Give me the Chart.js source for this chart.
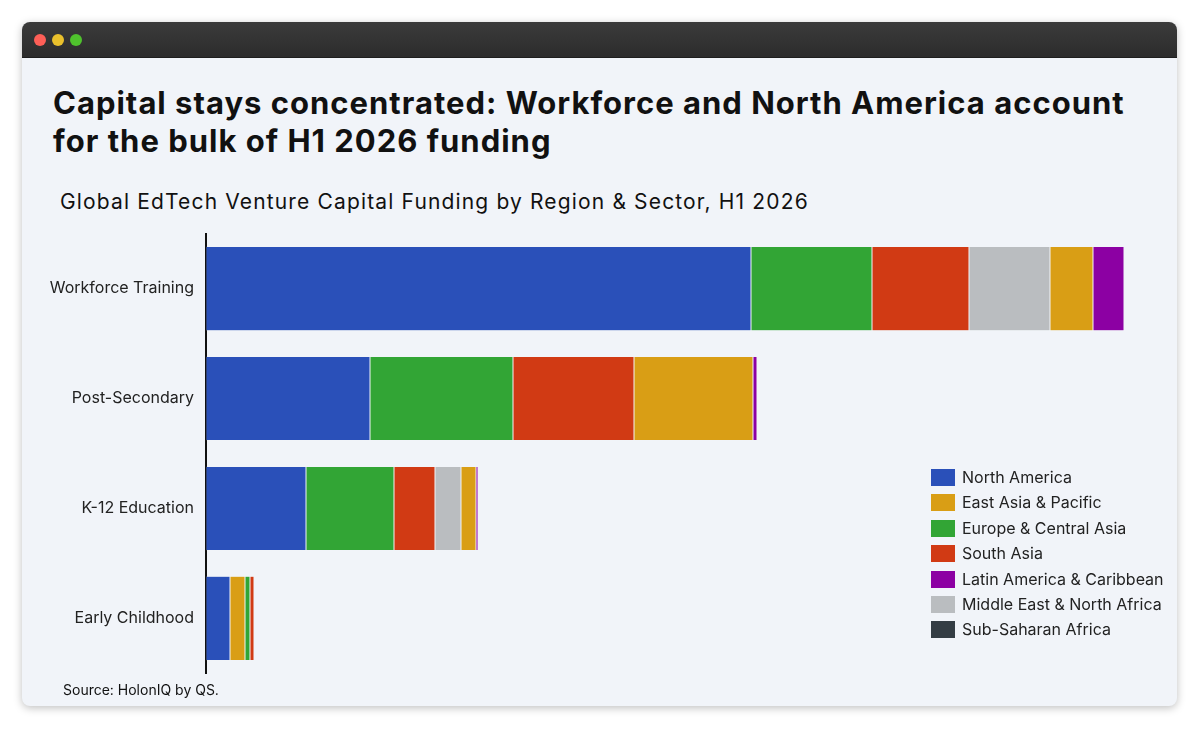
<!DOCTYPE html>
<html>
<head>
<meta charset="utf-8">
<script src="https://cdn.jsdelivr.net/npm/chart.js@4/dist/chart.umd.min.js"></script>
<style>
  body { margin: 0; background: #ffffff; width: 1200px; height: 729px; overflow: hidden; font-family: Inter, "Noto Sans", sans-serif; }
  .win { position: absolute; left: 22px; top: 22px; width: 1155px; height: 684px; border-radius: 8px; background: #f1f4f9;
         box-shadow: 0 2px 8px rgba(0,0,0,0.25); overflow: hidden; }
  .bar { position: absolute; left: 0; top: 0; width: 100%; height: 35px; background: linear-gradient(#3b3b3b, #2c2c2c); border-bottom: 1px solid #1e1e1e; }
  .dot { position: absolute; top: 12px; width: 12px; height: 12px; border-radius: 50%; }
  h1 { position: absolute; left: 31px; top: 62px; margin: 0; font-size: 31px; font-weight: 700; line-height: 38px; color: #111; letter-spacing: 1px; white-space: nowrap; }
  .sub { position: absolute; left: 38px; top: 166px; font-size: 21px; line-height: 28px; color: #111; letter-spacing: 1.15px; white-space: nowrap; }
  #wrap { position: absolute; left: 0; top: 190px; width: 1144px; height: 483px; }
  .legend { position: absolute; left: 909px; top: 447px; }
  .legend div { height: 25.4px; display: flex; align-items: flex-start; font-size: 16px; color: #222; }
  .legend span.box { width: 24px; height: 17px; margin-right: 7px; flex: none; }
  .legend span.txt { line-height: 17px; }
  .src { position: absolute; left: 41px; top: 659px; font-size: 14px; color: #111; }
</style>
</head>
<body>
<div class="win">
  <div class="bar">
    <div class="dot" style="left:12px;background:#fe5f57"></div>
    <div class="dot" style="left:30px;background:#e9c02c"></div>
    <div class="dot" style="left:48px;background:#4fc22d"></div>
  </div>
  <h1>Capital stays concentrated: Workforce and North America account<br>for the bulk of H1 2026 funding</h1>
  <div class="sub">Global EdTech Venture Capital Funding by Region &amp; Sector, H1 2026</div>
  <div id="wrap"><canvas id="myChart"></canvas></div>
  <div class="legend" id="legend"></div>
  <div class="src">Source: HolonIQ by QS.</div>
</div>
<script>
// funding, $M
const categories = ["Workforce Training", "Post-Secondary", "K-12 Education", "Early Childhood"];
const seriesNames = ["North America", "East Asia & Pacific", "Europe & Central Asia", "South Asia",
	"Latin America & Caribbean", "Middle East & North Africa", "Sub-Saharan Africa"];
const northAmerica = [545, 164, 100, 24];
const eastAsiaPacific = [43, 119, 15, 15];
const europeCentralAsia = [121, 143, 88, 5];
const southAsia = [97, 121, 41, 4];
const latinAmerica = [31, 4, 2, 0];
const middleEastNorthAfrica = [81, 0, 26, 0];
const subSaharanAfrica = [0, 0, 0, 0];
const colors = ["#2a50b9", "#d99e15", "#32a535", "#d13a14", "#8c00a3", "#babdc0", "#343d44"];

const series = [northAmerica, eastAsiaPacific, europeCentralAsia, southAsia, latinAmerica, middleEastNorthAfrica, subSaharanAfrica];

// each bar is stacked largest first, so build floating segments per category
const ranges = series.map(() => []);
for (let c = 0; c < categories.length; c++) {
	const order = series.map((s, i) => i).sort((a, b) => series[b][c] - series[a][c]);
	let start = 0;
	for (const i of order) {
		const v = series[i][c];
		ranges[i][c] = v > 0 ? [start, start + v] : null;
		start += v;
	}
}

const legend = document.getElementById("legend");
seriesNames.forEach((name, i) => {
	const row = document.createElement("div");
	row.innerHTML = `<span class="box" style="background:${colors[i]}"></span><span class="txt">${name}</span>`;
	legend.appendChild(row);
});

new Chart("myChart", {
	type: "bar",
	data: {
		labels: categories,
		datasets: seriesNames.map((name, i) => ({
			label: name,
			data: ranges[i],
			backgroundColor: colors[i],
			borderColor: "rgba(255,255,255,0.25)",
			borderWidth: 0.5,
			borderSkipped: false,
			grouped: false,
			barPercentage: 0.85,
			categoryPercentage: 0.9
		}))
	},
	options: {
		indexAxis: "y",
		responsive: true,
		maintainAspectRatio: false,
		animation: false,
		layout: { padding: 0 },
		scales: {
			x: { display: false, min: 0, max: 960, stacked: false },
			y: {
				grid: { display: false, drawTicks: false },
				border: { display: true, color: "#111", width: 2 },
				ticks: { padding: 12, color: "#222", font: { family: "Inter", size: 16 } },
				afterFit: (scale) => { scale.width = 184; }
			}
		},
		plugins: {
			legend: { display: false },
			tooltip: { enabled: false }
		}
	}
});
</script>
</body>
</html>
